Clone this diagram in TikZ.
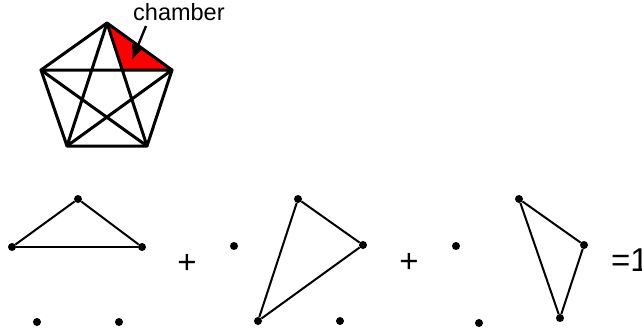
\documentclass[tikz,border=0pt]{standalone}
\usepackage{fontspec}
\setmainfont{Liberation Sans}
\usepackage{tikz}
\usetikzlibrary{arrows.meta, calc}
\tikzset{
  edg/.style ={line width=3pt, line join=round},
  seg/.style ={line width=2pt},
  pt/.style  ={circle, fill=black, inner sep=0pt, minimum size=8pt},
  lbl/.style ={font=\fontsize{23.5}{24}\selectfont, inner sep=0pt},
  sgn/.style ={font=\fontsize{33}{33}\selectfont, inner sep=0pt},
  fl/.style  ={-{Latex[length=15pt, width=13pt]}, line width=2.4pt},
}
\begin{document}
\begin{tikzpicture}[x=1pt, y=-1pt, >=Latex]
  \useasboundingbox (0,0) rectangle (642,330);
  % pentagon with all diagonals
  \coordinate (t)  at (107,23);
  \coordinate (l)  at (41,70);
  \coordinate (r)  at (172,70);
  \coordinate (bl) at (67,146);
  \coordinate (br) at (147,146);
  \coordinate (x)  at ($(t)!{47/123}!(br)$);
  \fill[red] (t) -- (x) -- (r) -- cycle;
  \draw[edg] (t) -- (r) -- (br) -- (bl) -- (l) -- cycle;
  \draw[edg] (t) -- (bl) -- (r) -- (l) -- (br) -- cycle;
  \node[lbl, anchor=base west] (lab) at (133,20) {chamber};
  \coordinate (ca) at (146,26);
  \coordinate (ch) at (132,60);
  \draw[fl] (ca) -- (ch);

  % first triangle
  \node[pt] (a1) at (78,199) {};
  \node[pt] (b1) at (12,247) {};
  \node[pt] (c1) at (142,247) {};
  \node[pt] (d1) at (37,322) {};
  \node[pt] (e1) at (119,322) {};
  \draw[seg] (a1) -- (b1);
  \draw[seg] (b1) -- (c1);
  \draw[seg] (c1) -- (a1);
  \node[sgn] (s1) at (187,264) {+};

  % second triangle
  \node[pt] (a2) at (298,199) {};
  \node[pt] (b2) at (234,246) {};
  \node[pt] (c2) at (363,245) {};
  \node[pt] (d2) at (258,321) {};
  \node[pt] (e2) at (340,321) {};
  \draw[seg] (a2) -- (c2);
  \draw[seg] (c2) -- (d2);
  \draw[seg] (d2) -- (a2);
  \node[sgn] (s2) at (409,263) {+};

  % third triangle
  \node[pt] (a3) at (519,199) {};
  \node[pt] (b3) at (456,246) {};
  \node[pt] (c3) at (584,245) {};
  \node[pt] (d3) at (479,323) {};
  \node[pt] (e3) at (560,318) {};
  \draw[seg] (a3) -- (c3);
  \draw[seg] (c3) -- (e3);
  \draw[seg] (e3) -- (a3);
  \node[sgn, anchor=base west] (eq) at (611,271) {=1};
\end{tikzpicture}
\end{document}
